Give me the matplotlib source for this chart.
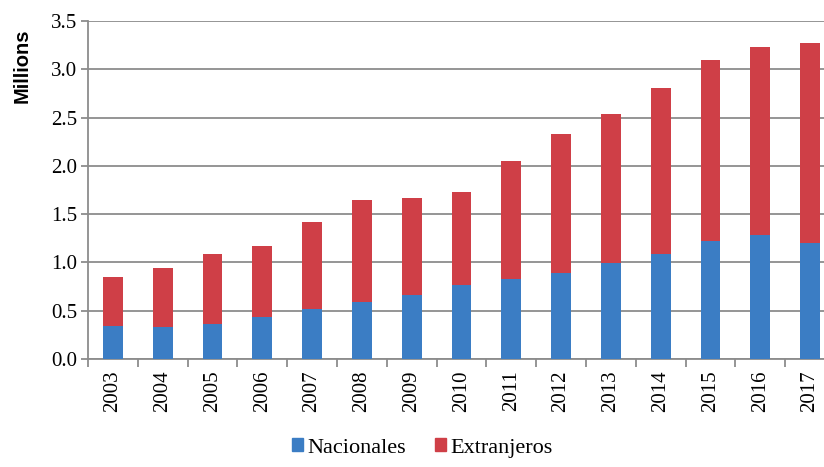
import matplotlib
matplotlib.use("Agg")
import matplotlib.pyplot as plt
import numpy as np
from matplotlib.patches import Patch

years = ["2003", "2004", "2005", "2006", "2007", "2008", "2009", "2010",
         "2011", "2012", "2013", "2014", "2015", "2016", "2017"]
nacionales = [0.34, 0.33, 0.36, 0.44, 0.52, 0.59, 0.66, 0.77,
              0.825, 0.89, 0.99, 1.09, 1.22, 1.28, 1.20]
totales = [0.845, 0.94, 1.09, 1.17, 1.42, 1.65, 1.67, 1.73,
           2.05, 2.33, 2.54, 2.81, 3.10, 3.23, 3.27]
extranjeros = [t - n for t, n in zip(totales, nacionales)]

blue = "#3b7dc4"
red = "#cf3f47"
grid_c = "#8c8c8c"
serif = "Liberation Serif"

fig = plt.figure(figsize=(8.24, 4.67), dpi=100)
ax = fig.add_axes([88 / 824, 1 - 359 / 467, (835 - 88) / 824, 338 / 467])

x = np.arange(len(years))
ax.bar(x, nacionales, width=0.4, color=blue, zorder=3)
ax.bar(x, extranjeros, width=0.4, bottom=nacionales, color=red, zorder=3)

ax.set_xlim(-0.5, len(years) - 0.5)
ax.set_ylim(0, 3.5)
ax.set_yticks(np.arange(0, 3.51, 0.5))
ax.set_yticklabels([f"{v:.1f}" for v in np.arange(0, 3.51, 0.5)],
                   family=serif, fontsize=15)
ax.yaxis.grid(True, color=grid_c, linewidth=1.3, zorder=0)
ax.tick_params(axis="y", length=5, width=1.3, color=grid_c, pad=3)

ax.set_xticks(x)
ax.set_xticklabels(years, rotation=90, family=serif, fontsize=15)
ax.set_xticks(np.arange(-0.5, len(years), 1), minor=True)
ax.tick_params(axis="x", which="major", length=0, pad=8)
ax.tick_params(axis="x", which="minor", length=6, width=1.3, color=grid_c)

for s in ["top", "right"]:
    ax.spines[s].set_visible(False)
for s in ["left", "bottom"]:
    ax.spines[s].set_color(grid_c)
    ax.spines[s].set_linewidth(1.3)

fig.text(22 / 824, 1 - 66 / 467, "Millions", rotation=90, ha="center",
         va="center", family="Liberation Sans", fontweight="bold", fontsize=14.5)

handles = [Patch(color=blue, label="Nacionales"),
           Patch(color=red, label="Extranjeros")]
fig.legend(handles=handles, loc="center", bbox_to_anchor=(422 / 824, 1 - 448 / 467),
           ncol=2, frameon=False, prop={"family": serif, "size": 16},
           handlelength=0.5, handleheight=0.5, handletextpad=0.2,
           columnspacing=1.3)

fig.savefig("out.png", dpi=100)
